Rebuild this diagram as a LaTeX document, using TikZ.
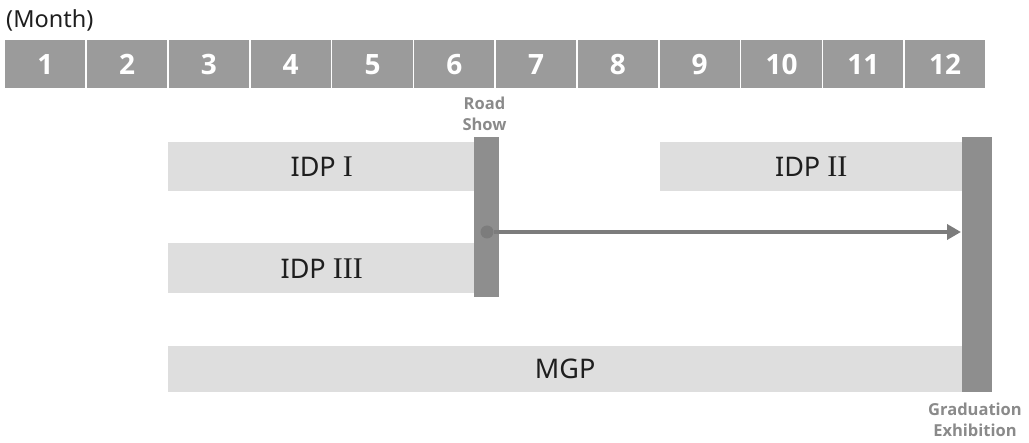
\documentclass[tikz,border=0pt]{standalone}
\usepackage{fontspec}
\setmainfont{Noto Sans}
\newfontfamily\headfont{Open Sans}
\newfontfamily\numeralfont{Liberation Serif}
\usetikzlibrary{arrows.meta}
\definecolor{cellgray}{HTML}{9B9B9B}
\definecolor{bargray}{HTML}{DEDEDE}
\definecolor{postgray}{HTML}{8E8E8E}
\definecolor{arrowgray}{HTML}{7C7C7C}
\definecolor{notegray}{HTML}{8A8A8A}
\definecolor{inkgray}{HTML}{1E1E1E}
\newcommand{\romnum}[1]{{\numeralfont\fontsize{30}{30}\selectfont #1}}
\tikzset{
  cell/.style={fill=cellgray, draw=none, inner sep=0pt, anchor=north west,
    minimum width=80.2pt, minimum height=48pt, text=white,
    font=\headfont\bfseries\fontsize{28}{28}\selectfont},
  phase/.style={fill=bargray, draw=none, inner sep=0pt, anchor=north west,
    minimum height=49pt, text=inkgray, font=\fontsize{27}{27}\selectfont},
  post/.style={fill=postgray, draw=none, inner sep=0pt, anchor=north west,
    minimum width=25pt},
  note/.style={text=notegray, align=center, inner sep=0pt,
    font=\headfont\bfseries\fontsize{16.5}{21}\selectfont},
}
\begin{document}
\begin{tikzpicture}[x=1pt,y=-1pt]
\useasboundingbox (0,0) rectangle (1029,443);
\node[anchor=west, inner sep=0pt, text=inkgray, font=\fontsize{23.5}{23.5}\selectfont] (unit) at (6,20) {(Month)};
\foreach \i in {1,...,12} {
  \node[cell] (m\i) at ({5+(\i-1)*81.8},40) {\i};
}
% programme bars
\node[phase, minimum width=307pt] (idp1) at (168,142) {IDP \romnum{I}};
\node[phase, minimum width=302pt] (idp2) at (660,142) {IDP \romnum{II}};
\node[phase, minimum width=307pt, minimum height=50pt] (idp3) at (168,243) {IDP \romnum{III}};
\node[phase, minimum width=794pt, minimum height=46pt] (mgp) at (168,346) {MGP};
% milestone posts
\node[post, minimum height=160pt] (road) at (474,137) {};
\node[post, minimum width=30pt, minimum height=255pt] (grad) at (962,137) {};
\node[note, anchor=south] (roadlbl) at (484.5,131) {Road\\Show};
\node[note, anchor=north] (gradlbl) at (975,403) {Graduation\\Exhibition};
% link from the road show to the graduation exhibition
\node[circle, fill=arrowgray, inner sep=0pt, minimum size=13pt] (dot) at (487,232) {};
\coordinate (tip) at (grad.west |- dot);
\draw[arrowgray, line width=4pt, -{Triangle[length=14pt, width=15pt]}, shorten >=1pt] (dot) -- (tip);
\end{tikzpicture}
\end{document}
